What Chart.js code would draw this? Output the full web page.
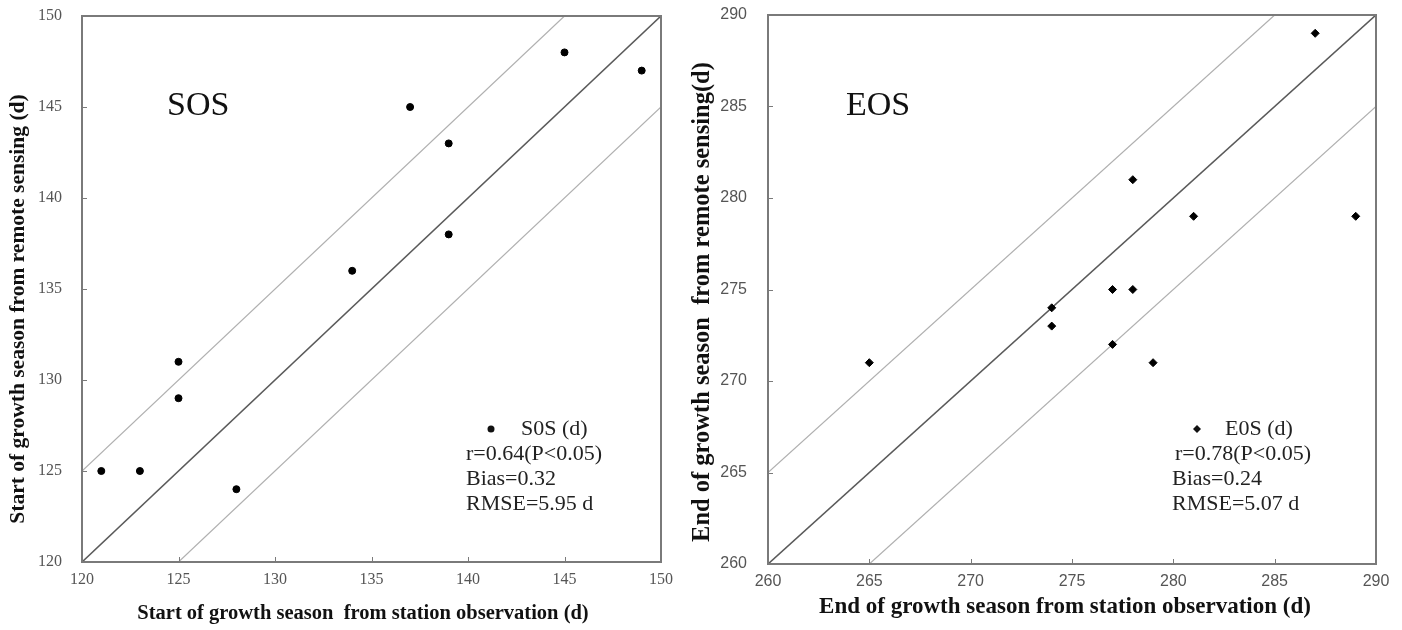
<!DOCTYPE html>
<html>
<head>
<meta charset="utf-8">
<script src="https://cdn.jsdelivr.net/npm/chart.js@4.4.1/dist/chart.umd.min.js"></script>
<style>
  body { margin: 0; background: #fff; }
  #wrap { position: relative; width: 1402px; height: 630px; overflow: hidden; }
  canvas { position: absolute; top: 0; }
  #sosChart { left: 0; }
  #eosChart { left: 685px; }
</style>
</head>
<body>
<div id="wrap">
  <canvas id="sosChart" width="685" height="630"></canvas>
  <canvas id="eosChart" width="717" height="630"></canvas>
</div>
<script>
// SOS: station observation (x) vs remote sensing (y), day of year
const sosObs = [121, 123, 125, 125, 128, 134, 137, 139, 139, 145, 149];
const sosRs  = [125, 125, 131, 129, 124, 136, 145, 143, 138, 148, 147];
const sosRange = [120, 150];
const sosStats = ['r=0.64(P<0.05)', 'Bias=0.32', 'RMSE=5.95 d'];

// EOS
const eosObs = [265, 274, 274, 277, 277, 278, 278, 279, 281, 287, 289];
const eosRs  = [271, 274, 273, 275, 272, 281, 275, 271, 279, 289, 279];
const eosRange = [260, 290];
const eosStats = ['r=0.78(P<0.05)', 'Bias=0.24', 'RMSE=5.07 d'];

const tickStep = 5;
const refOffsets = [0, 5, -5];   // 1:1 line and +/- 5 days

Chart.defaults.devicePixelRatio = 1;
Chart.defaults.animation = false;

function refLine(range, d) {
    const lo = range[0], hi = range[1];
    const x0 = Math.max(lo, lo - d), x1 = Math.min(hi, hi - d);
    return [{ x: x0, y: x0 + d }, { x: x1, y: x1 + d }];
}

// box, inward tick marks, axis titles and the text annotations
const annotPlugin = {
    id: 'annot',
    afterDraw(chart, args, o) {
        const { ctx, chartArea: a, scales: { x, y } } = chart;
        ctx.save();
        ctx.strokeStyle = '#7a7a7a';
        ctx.lineWidth = 2;
        ctx.strokeRect(a.left, a.top, a.right - a.left, a.bottom - a.top);
        ctx.lineWidth = 1;
        x.ticks.forEach(t => {
            const px = Math.round(x.getPixelForValue(t.value)) + 0.5;
            ctx.beginPath(); ctx.moveTo(px, a.bottom); ctx.lineTo(px, a.bottom - 5); ctx.stroke();
        });
        y.ticks.forEach(t => {
            const py = Math.round(y.getPixelForValue(t.value)) + 0.5;
            ctx.beginPath(); ctx.moveTo(a.left, py); ctx.lineTo(a.left + 5, py); ctx.stroke();
        });

        // axis titles
        ctx.fillStyle = '#111';
        ctx.textAlign = 'center';
        ctx.textBaseline = 'middle';
        ctx.font = 'bold ' + o.xTitle.size + 'px "Liberation Serif"';
        ctx.fillText(o.xTitle.text, o.xTitle.x, o.xTitle.y);
        ctx.save();
        ctx.translate(o.yTitle.x, o.yTitle.y);
        ctx.rotate(-Math.PI / 2);
        ctx.font = 'bold ' + o.yTitle.size + 'px "Liberation Serif"';
        ctx.fillText(o.yTitle.text, 0, 0);
        ctx.restore();

        ctx.textAlign = 'left';
        ctx.font = '34px "Liberation Serif"';
        ctx.fillText(o.title, o.titleX, o.titleY);

        // legend marker + label
        ctx.beginPath();
        if (o.diamond) {
            const r = 4;
            ctx.moveTo(o.markX, o.legY - r); ctx.lineTo(o.markX + r, o.legY);
            ctx.lineTo(o.markX, o.legY + r); ctx.lineTo(o.markX - r, o.legY);
            ctx.closePath();
        } else {
            ctx.arc(o.markX, o.legY, 3.5, 0, Math.PI * 2);
        }
        ctx.fill();
        ctx.font = '22px "Liberation Serif"';
        ctx.fillStyle = '#222';
        ctx.fillText(o.legend, o.markX + o.legGap, o.legY);
        o.stats.forEach((s, i) => ctx.fillText(s, o.statX + (i === 0 ? o.rShift : 0), o.legY + 25 * (i + 1)));
        ctx.restore();
    }
};

function makeChart(id, obs, rs, range, cfg) {
    const pts = obs.map((v, i) => ({ x: v, y: rs[i] }));
    const lineColors = ['#5a5a5a', '#b0b0b0', '#b0b0b0'];
    const lines = refOffsets.map((d, i) => ({
        type: 'line',
        data: refLine(range, d),
        borderColor: lineColors[i],
        borderWidth: i === 0 ? 1.6 : 1.2,
        pointRadius: 0,
        order: 2
    }));
    const tickFont = { family: cfg.tickFamily, size: cfg.tickSize };
    return new Chart(document.getElementById(id), {
        type: 'scatter',
        data: {
            datasets: [{
                data: pts,
                backgroundColor: '#000',
                borderColor: '#000',
                pointStyle: cfg.diamond ? 'rectRot' : 'circle',
                pointRadius: cfg.diamond ? 4 : 3.5,
                order: 1
            }].concat(lines)
        },
        options: {
            responsive: false,
            layout: { padding: cfg.pad },
            plugins: {
                legend: { display: false },
                tooltip: { enabled: false },
                annot: cfg.annot
            },
            scales: {
                x: {
                    type: 'linear', min: range[0], max: range[1],
                    ticks: { stepSize: tickStep, color: '#555', font: tickFont, padding: cfg.xTickPad },
                    grid: { display: false, drawTicks: false },
                    border: { display: false },
                    afterFit(s) { s.height = cfg.xHeight; s.paddingLeft = 0; s.paddingRight = 0; }
                },
                y: {
                    type: 'linear', min: range[0], max: range[1],
                    ticks: { stepSize: tickStep, color: '#555', font: tickFont, padding: cfg.yTickPad },
                    grid: { display: false, drawTicks: false },
                    border: { display: false },
                    afterFit(s) { s.width = cfg.yWidth; s.paddingTop = 0; s.paddingBottom = 0; }
                }
            }
        },
        plugins: [annotPlugin]
    });
}

makeChart('sosChart', sosObs, sosRs, sosRange, {
    pad: { top: 16, right: 24, left: 0, bottom: 0 },
    yWidth: 82, xHeight: 68,
    tickFamily: 'Liberation Serif', tickSize: 16,
    xTickPad: 8, yTickPad: 20,
    diamond: false,
    annot: {
        title: 'SOS', titleX: 167, titleY: 106, legend: 'S0S (d)', markX: 491, legGap: 30, legY: 429,
        stats: sosStats, statX: 466, rShift: 0, diamond: false,
        xTitle: { text: 'Start of growth season  from station observation (d)', size: 20.5, x: 363, y: 614 },
        yTitle: { text: 'Start of growth season from remote sensing (d)', size: 21.5, x: 18, y: 309 }
    }
});

makeChart('eosChart', eosObs, eosRs, eosRange, {
    pad: { top: 15, right: 26, left: 0, bottom: 0 },
    yWidth: 83, xHeight: 66,
    tickFamily: 'Liberation Sans', tickSize: 16,
    xTickPad: 8, yTickPad: 21,
    diamond: true,
    annot: {
        title: 'EOS', titleX: 161, titleY: 106, legend: 'E0S (d)', markX: 512, legGap: 28, legY: 429,
        stats: eosStats, statX: 487, rShift: 3, diamond: true,
        xTitle: { text: 'End of growth season from station observation (d)', size: 23, x: 1065 - 685, y: 607 },
        yTitle: { text: 'End of growth season  from remote sensing(d)', size: 24.5, x: 703 - 685, y: 302 }
    }
});
</script>
</body>
</html>
